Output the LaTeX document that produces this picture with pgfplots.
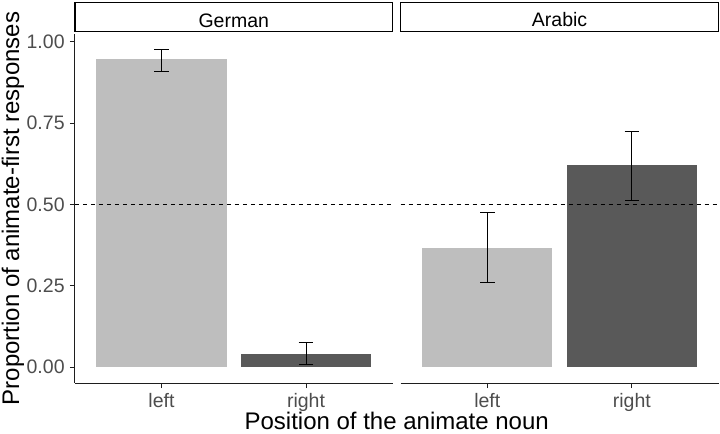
\documentclass[border=0pt]{standalone}
\usepackage{fontspec}
\setmainfont{Liberation Sans}
\usepackage{pgfplots}
\pgfplotsset{compat=1.18}
\definecolor{lightbar}{RGB}{190,190,190}
\definecolor{darkbar}{RGB}{89,89,89}
\definecolor{ticktext}{RGB}{77,77,77}
\definecolor{axline}{RGB}{30,30,30}
\newcommand{\tickfont}{\fontsize{19.5bp}{23bp}\selectfont}
\newcommand{\titlefont}{\fontsize{24bp}{28bp}\selectfont}
\pgfplotsset{
  panel/.style={
    scale only axis, width=317.9bp, height=349bp,
    xmin=0.4, xmax=2.6, ymin=-0.049, ymax=1.024,
    clip=false,
    axis line style={axline, line width=0.9bp},
    tick style={axline, line width=0.9bp},
    tick align=outside, major tick length=5bp,
    xtick={1,2}, xticklabels={left,right},
    xticklabel style={font=\tickfont, text=ticktext, anchor=north, inner sep=0pt, yshift=-5bp},
    yticklabel style={font=\tickfont, text=ticktext, anchor=east, inner sep=0pt, xshift=-5bp},
    axis x line*=bottom,
  },
  errs/.style={draw=none, mark=none, forget plot,
    error bars/.cd, y dir=both, y explicit,
    error bar style={draw=black, line width=0.9bp},
    error mark options={rotate=90, draw=black, mark size=7.3bp, line width=0.9bp}},
  hline/.style={draw=black, line width=1bp, dash pattern=on 4bp off 4bp, mark=none, forget plot},
}
\begin{document}
\begin{tikzpicture}
\path[use as bounding box] (0,0) rectangle (720bp,434bp);
% German panel
\begin{axis}[panel, at={(74.8bp,51bp)}, anchor=south west,
  axis y line*=left,
  ytick={0,0.25,0.5,0.75,1}, yticklabels={0.00,0.25,0.50,0.75,1.00}]
\addplot[ybar, bar width=0.9, bar shift=0pt, fill=lightbar, draw=none] coordinates {(1,0.946)};
\addplot[ybar, bar width=0.9, bar shift=0pt, fill=darkbar, draw=none] coordinates {(2,0.040)};
\addplot[errs] coordinates {(1,0.946) += (0,0.030) -= (0,0.036) (2,0.040) += (0,0.035) -= (0,0.033)};
\addplot[hline] coordinates {(0.4,0.5) (2.6,0.5)};
\draw[black, line width=1.5bp, fill=white] ([yshift=2.6bp]rel axis cs:0,1) rectangle ([yshift=31.4bp]rel axis cs:1,1);
\node[font=\tickfont, anchor=base, inner sep=0pt] at ([yshift=6.7bp]rel axis cs:0.5,1) {German};
\end{axis}
% Arabic panel
\begin{axis}[panel, at={(400.6bp,51bp)}, anchor=south west,
  axis y line=none, ytick=\empty]
\addplot[ybar, bar width=0.9, bar shift=0pt, fill=lightbar, draw=none] coordinates {(1,0.366)};
\addplot[ybar, bar width=0.9, bar shift=0pt, fill=darkbar, draw=none] coordinates {(2,0.620)};
\addplot[errs] coordinates {(1,0.366) += (0,0.110) -= (0,0.107) (2,0.620) += (0,0.105) -= (0,0.108)};
\addplot[hline] coordinates {(0.4,0.5) (2.6,0.5)};
\draw[black, line width=1.5bp, fill=white] ([yshift=2.6bp]rel axis cs:0,1) rectangle ([yshift=31.4bp]rel axis cs:1,1);
\node[font=\tickfont, anchor=base, inner sep=0pt] at ([yshift=7bp]rel axis cs:0.5,1) {Arabic};
\end{axis}
\node[font=\titlefont, anchor=base, inner sep=0pt] at (396.7bp,4.8bp) {Position of the animate noun};
\node[font=\titlefont, anchor=base, inner sep=0pt, rotate=90] at (19bp,225.5bp) {Proportion of animate-first responses};
\end{tikzpicture}
\end{document}
